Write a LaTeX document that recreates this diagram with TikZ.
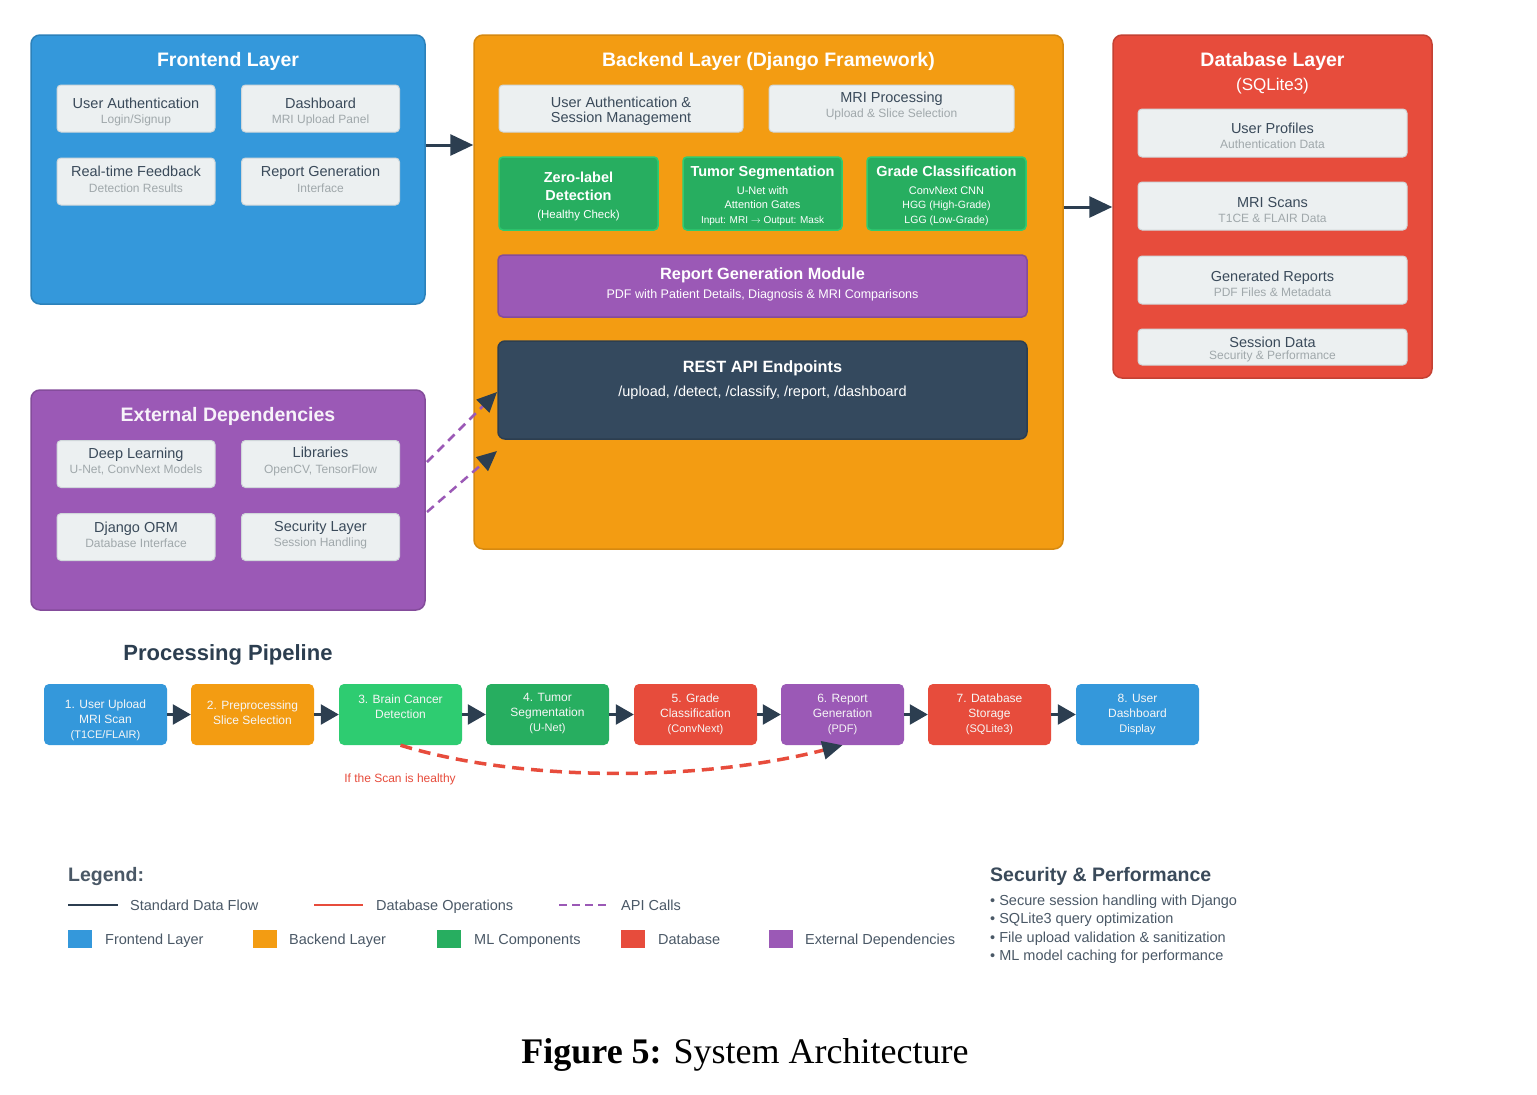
\documentclass[tikz,border=0pt]{standalone}
\usepackage{fontspec}
\setmainfont{Liberation Sans}
\newfontfamily\capfont{Liberation Serif}
\usetikzlibrary{arrows.meta}
\definecolor{feblue}{HTML}{3498DB}
\definecolor{beorange}{HTML}{F39C12}
\definecolor{dbred}{HTML}{E74C3C}
\definecolor{expurple}{HTML}{9B59B6}
\definecolor{darknavy}{HTML}{34495E}
\definecolor{arrownavy}{HTML}{2C3E50}
\definecolor{mlgreen}{HTML}{27AE60}
\definecolor{ltgreen}{HTML}{2ECC71}
\definecolor{boxfill}{HTML}{ECF0F1}
\definecolor{boxline}{HTML}{D0D7DA}
\definecolor{txt}{HTML}{3A4A5A}
\definecolor{subg}{HTML}{A0A8AB}
\definecolor{legtxt}{HTML}{4A5866}
\newcommand\fs[2]{\fontsize{#1}{#2}\selectfont}
\tikzset{
  layer/.style={rounded corners=9pt, line width=1.5pt, inner sep=0pt},
  ltitle/.style={text=white, font=\fs{19.5}{22}\bfseries},
  sbox/.style={rounded corners=4pt, fill=boxfill, draw=boxline, line width=1pt, inner sep=0pt},
  sbtext/.style={align=center, text=txt, font=\fs{14.5}{15.5}, inner sep=0pt},
  mlbox/.style={rounded corners=4pt, fill=mlgreen, draw=ltgreen, line width=1.5pt, inner sep=0pt,
    minimum width=159pt, minimum height=73pt},
  mltext/.style={align=center, text=white, font=\fs{11}{14.5}, inner sep=0pt},
  pbox/.style={rounded corners=5pt, inner sep=0pt, minimum width=123pt, minimum height=61pt},
  ptext/.style={align=center, text=white!93!gray, font=\fs{12}{15}, inner sep=0pt},
  flow/.style={draw=arrownavy, line width=3pt, -{Triangle[length=23pt,width=21pt]}},
  pflow/.style={draw=arrownavy, line width=2.5pt, -{Triangle[length=18pt,width=20pt]}},
  api/.style={draw=expurple, line width=2.5pt, dash pattern=on 9pt off 6pt,
    -{Triangle[length=20pt,width=18pt,color=arrownavy,fill=arrownavy]}},
  dbop/.style={draw=dbred, line width=3.5pt, dash pattern=on 12pt off 7pt,
    -{Triangle[length=20pt,width=18pt,color=arrownavy,fill=arrownavy]}},
  legtext/.style={anchor=west, text=legtxt, font=\fs{14.5}{17}, inner sep=0pt,
    text height=10.5pt, text depth=3pt},
}
% #1 name, #2 x, #3 y, #4 width, #5 height, #6 text centre y, #7 main, #8 sub
\newcommand\subbox[8]{%
  \node[sbox, minimum width=#4pt, minimum height=#5pt] (#1) at (#2,#3) {};
  \node[sbtext] (#1t) at (#2,#6) {#7\\{\fs{12}{14}\color{subg}#8}};}
\begin{document}
\begin{tikzpicture}[x=1pt,y=-1pt]
\useasboundingbox (0,0) rectangle (1537,1095);
\fill[white] (0,0) rectangle (1537,1095);

% ---------- Frontend layer
\node[layer, fill=feblue, draw=feblue!85!black, minimum width=394pt, minimum height=269pt] (fe) at (228,169.5) {};
\node[ltitle] (fetitle) at (228,61) {Frontend Layer};
\subbox{fe1}{136}{108.5}{158}{47}{112}{User Authentication}{Login/Signup}
\subbox{fe2}{320.5}{108.5}{158}{47}{112}{Dashboard}{MRI Upload Panel}
\subbox{fe3}{136}{181.5}{158}{47}{179.5}{Real-time Feedback}{Detection Results}
\subbox{fe4}{320.5}{181.5}{158}{47}{179.5}{Report Generation}{Interface}

% ---------- External dependencies
\node[layer, fill=expurple, draw=expurple!85!black, minimum width=394pt, minimum height=220pt] (ex) at (228,500) {};
\node[ltitle, text=white!92!expurple] (extitle) at (228,416) {External Dependencies};
\subbox{ex1}{136}{464}{158}{47}{461.5}{Deep Learning}{U-Net, ConvNext Models}
\subbox{ex2}{320.5}{464}{158}{47}{461.5}{Libraries}{OpenCV, TensorFlow}
\subbox{ex3}{136}{537}{158}{47}{535}{Django ORM}{Database Interface}
\subbox{ex4}{320.5}{537}{158}{47}{535}{Security Layer}{Session Handling}

% ---------- Backend layer
\node[layer, fill=beorange, draw=beorange!88!black, minimum width=589pt, minimum height=514pt] (be) at (768.5,292) {};
\node[ltitle] (betitle) at (768.5,61) {Backend Layer (Django Framework)};
\node[sbox, minimum width=244pt, minimum height=47pt] (be1) at (621,108.5) {};
\node[sbtext, font=\fs{14.5}{15}] (be1t) at (621,111.5) {User Authentication \&\\Session Management};
\subbox{be2}{891.5}{108.5}{245}{47}{106}{MRI Processing}{Upload \& Slice Selection}
\node[mlbox] (ml1) at (578.5,193.5) {};
\node[mltext, font=\fs{14.5}{18}\bfseries] (ml1a) at (578.5,186) {Zero-label\\Detection};
\node[mltext, font=\fs{11.5}{14}] (ml1b) at (578.5,215.5) {(Healthy Check)};
\node[mlbox] (ml2) at (762.5,193.5) {};
\node[mltext] (ml2t) at (762.5,196) {{\fs{14.5}{17}\bfseries Tumor Segmentation}\\[3pt]U-Net with\\Attention Gates\\{\fs{10}{12}Input: MRI $\rightarrow$ Output: Mask}};
\node[mlbox] (ml3) at (946.5,193.5) {};
\node[mltext] (ml3t) at (946.5,196) {{\fs{14.5}{17}\bfseries Grade Classification}\\[3pt]ConvNext CNN\\{\fs{10.5}{12}HGG (High-Grade)}\\{\fs{10.5}{12}LGG (Low-Grade)}};
\node[rounded corners=5pt, fill=expurple, draw=expurple!85!black, line width=1.5pt, minimum width=529pt, minimum height=62pt, inner sep=0pt] (rep) at (762.5,286) {};
\node[text=white, font=\fs{16.3}{20}\bfseries, inner sep=0pt] (rept) at (762.5,275) {Report Generation Module};
\node[text=white, font=\fs{12.5}{15}, inner sep=0pt] (reps) at (762.5,295) {PDF with Patient Details, Diagnosis \& MRI Comparisons};
\node[rounded corners=7pt, fill=darknavy, draw=darknavy!85!black, line width=1.5pt, minimum width=529pt, minimum height=98pt, inner sep=0pt] (rest) at (762.5,390) {};
\node[text=white, font=\fs{16.3}{20}\bfseries, inner sep=0pt] (restt) at (762.5,368) {REST API Endpoints};
\node[text=white, font=\fs{14.5}{17}, inner sep=0pt] (rests) at (762.5,393) {/upload, /detect, /classify, /report, /dashboard};

% ---------- Database layer
\node[layer, fill=dbred, draw=dbred!85!black, minimum width=319pt, minimum height=343pt] (db) at (1272.5,206.5) {};
\node[ltitle] (dbtitle) at (1272.5,61) {Database Layer};
\node[text=white, font=\fs{17}{20}, inner sep=0pt] (dbsub) at (1272.5,86) {(SQLite3)};
\subbox{db1}{1272.5}{133}{269}{48}{136}{User Profiles}{Authentication Data}
\subbox{db2}{1272.5}{206}{269}{48}{210}{MRI Scans}{T1CE \& FLAIR Data}
\subbox{db3}{1272.5}{280}{269}{48}{284}{Generated Reports}{PDF Files \& Metadata}
\node[sbox, minimum width=269pt, minimum height=36pt] (db4) at (1272.5,347) {};
\node[sbtext, font=\fs{14.5}{12.5}] (db4t) at (1272.5,349.5) {Session Data\\{\fs{12}{13}\color{subg}Security \& Performance}};

% ---------- Layer connectors
\draw[flow] (fe.east |- 0,145) -- (be.west |- 0,145);
\draw[flow] (be.east |- 0,207) -- (db.west |- 0,207);
\coordinate (a1s) at (427,462);
\coordinate (a1e) at (497,392);
\coordinate (a2s) at (427,512);
\coordinate (a2e) at (497,451);
\draw[api] (a1s) -- (a1e);
\draw[api] (a2s) -- (a2e);

% ---------- Processing pipeline
\node[text=arrownavy, font=\fs{22}{26}\bfseries, inner sep=0pt] (pptitle) at (228,655) {Processing Pipeline};
\node[pbox, fill=feblue] (p1) at (105.5,714.5) {};
\node[pbox, fill=beorange] (p2) at (252.5,714.5) {};
\node[pbox, fill=ltgreen] (p3) at (400.5,714.5) {};
\node[pbox, fill=mlgreen] (p4) at (547.5,714.5) {};
\node[pbox, fill=dbred] (p5) at (695.5,714.5) {};
\node[pbox, fill=expurple] (p6) at (842.5,714.5) {};
\node[pbox, fill=dbred] (p7) at (989.5,714.5) {};
\node[pbox, fill=feblue] (p8) at (1137.5,714.5) {};
\node[ptext] (p1t) at (105.5,720.5) {1. User Upload\\MRI Scan\\{\fs{11}{13}(T1CE/FLAIR)}};
\node[ptext] (p2t) at (252.5,713) {2. Preprocessing\\Slice Selection};
\node[ptext] (p3t) at (400.5,706.5) {3. Brain Cancer\\Detection};
\node[ptext] (p4t) at (547.5,714) {4. Tumor\\Segmentation\\{\fs{11}{13}(U-Net)}};
\node[ptext] (p5t) at (695.5,714) {5. Grade\\Classification\\{\fs{11}{13}(ConvNext)}};
\node[ptext] (p6t) at (842.5,714) {6. Report\\Generation\\{\fs{11}{13}(PDF)}};
\node[ptext] (p7t) at (989.5,714) {7. Database\\Storage\\{\fs{11}{13}(SQLite3)}};
\node[ptext] (p8t) at (1137.5,714) {8. User\\Dashboard\\{\fs{11}{13}Display}};
\draw[pflow] (p1) -- (p2);
\draw[pflow] (p2) -- (p3);
\draw[pflow] (p3) -- (p4);
\draw[pflow] (p4) -- (p5);
\draw[pflow] (p5) -- (p6);
\draw[pflow] (p6) -- (p7);
\draw[pflow] (p7) -- (p8);
\draw[dbop] (p3.south) .. controls (520,782) and (700,782) .. (p6.south);
\node[text=dbred, font=\fs{12}{14}, inner sep=0pt] (healthy) at (400,779) {If the Scan is healthy};

% ---------- Legend
\node[anchor=west, text=legtxt, font=\fs{19.5}{22}\bfseries, inner sep=0pt] (legtitle) at (68,876) {Legend:};
\draw[arrownavy, line width=2.5pt] (68,905) -- (118,905);
\node[legtext] (lg1) at (130,907) {Standard Data Flow};
\draw[dbred, line width=2.5pt] (314,905) -- (363,905);
\node[legtext] (lg2) at (376,907) {Database Operations};
\draw[expurple, line width=2.5pt, dash pattern=on 8pt off 5pt] (559,905) -- (609,905);
\node[legtext] (lg3) at (621,907) {API Calls};
\fill[feblue] (68,930) rectangle (92,948);
\node[legtext] (lg4) at (105,941) {Frontend Layer};
\fill[beorange] (253,930) rectangle (277,948);
\node[legtext] (lg5) at (289,941) {Backend Layer};
\fill[mlgreen] (437,930) rectangle (461,948);
\node[legtext] (lg6) at (474,941) {ML Components};
\fill[dbred] (621,930) rectangle (645,948);
\node[legtext] (lg7) at (658,941) {Database};
\fill[expurple] (769,930) rectangle (793,948);
\node[legtext] (lg8) at (805,941) {External Dependencies};

% ---------- Security & performance
\node[anchor=west, text=txt, font=\fs{19.5}{22}\bfseries, inner sep=0pt] (sectitle) at (990,876) {Security \& Performance};
\node[legtext] (sec1) at (990,902) {• Secure session handling with Django};
\node[legtext] (sec2) at (990,920) {• SQLite3 query optimization};
\node[legtext] (sec3) at (990,939) {• File upload validation \& sanitization};
\node[legtext] (sec4) at (990,957) {• ML model caching for performance};

% ---------- Caption
\node[font=\capfont\fs{36}{40}, inner sep=0pt] (caption) at (745,1055) {\textbf{Figure 5:} System Architecture};
\end{tikzpicture}
\end{document}
